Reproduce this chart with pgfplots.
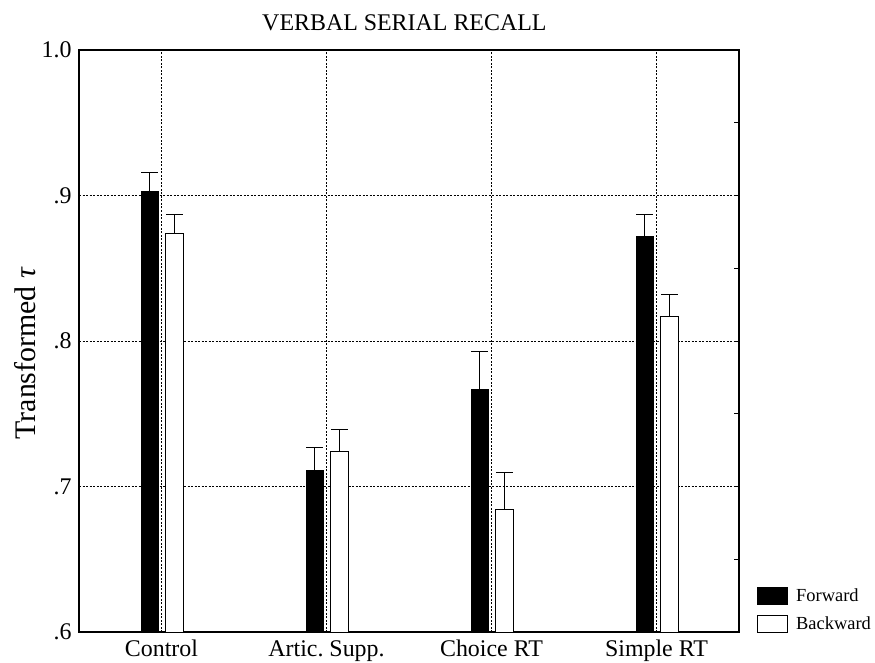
\documentclass[border=0pt]{standalone}
\usepackage{fontspec}
\setmainfont{Liberation Serif}
\usepackage{pgfplots}
\pgfplotsset{compat=1.18}
\begin{document}
\begin{tikzpicture}
\pgfplotsset{
  mybar/.style={ybar, bar width=0.106, bar shift=0, draw=black, line width=1bp,
    legend image code/.code={\draw[##1, line width=1bp] (0bp,-8.5bp) rectangle (30bp,8.5bp); \path (36bp,0bp);},
    error bars/y dir=plus, error bars/y explicit,
    error bars/error bar style={line width=1bp, black, solid},
    error bars/error mark options={rotate=90, mark size=8.5bp, line width=1bp, black}},
}
\begin{axis}[
  scale only axis, width=660bp, height=582bp,
  xmin=-0.5, xmax=3.5, ymin=0.6, ymax=1.0,
  xtick={0,1,2,3},
  xticklabels={Control, Artic.\ Supp., Choice RT, Simple RT},
  ytick={0.6,0.7,0.8,0.9,1.0},
  yticklabels={.6,.7,.8,.9,1.0},
  minor ytick={0.65,0.75,0.85,0.95},
  ytick pos=right, yticklabel pos=left,
  xtick style={draw=none},
  ytick style={black, line width=1bp},
  major tick length=5bp, minor tick length=5bp,
  xmajorgrids, ymajorgrids,
  grid style={black, line width=1bp, dash pattern=on 2bp off 1.5bp},
  axis line style={line width=1.2bp},
  title={VERBAL SERIAL RECALL},
  title style={at={(axis description cs:0.493,1.037)}, anchor=center, font=\fontsize{24}{28}\selectfont},
  ylabel={Transformed \textit{τ}},
  ylabel style={at={(axis description cs:-0.082,0.479)}, anchor=center, font=\fontsize{30}{34}\selectfont},
  xticklabel style={font=\fontsize{24}{28}\selectfont, anchor=base, yshift=-24bp},
  yticklabel style={font=\fontsize{24}{28}\selectfont, xshift=-4bp},
  legend style={at={(axis description cs:1,0)}, anchor=south west, xshift=18bp, yshift=-1.5bp,
    draw=none, fill=none, font=\fontsize{18.5}{21}\selectfont, row sep=10bp,
    inner sep=0pt, cells={anchor=west}},
]
\addplot[mybar, fill=black] coordinates {
  (-0.070,0.903) +- (0,0.013)
  (0.930,0.711) +- (0,0.016)
  (1.930,0.767) +- (0,0.026)
  (2.930,0.872) +- (0,0.015)
};
\addlegendentry{Forward}
\addplot[mybar, fill=white] coordinates {
  (0.079,0.874) +- (0,0.013)
  (1.079,0.724) +- (0,0.0155)
  (2.079,0.684) +- (0,0.0254)
  (3.079,0.817) +- (0,0.0147)
};
\addlegendentry{Backward}
\end{axis}
\pgfresetboundingbox
\path[use as bounding box] ([xshift=-79bp,yshift=-30bp]current axis.south west) rectangle ([xshift=136bp,yshift=50bp]current axis.north east);
\end{tikzpicture}
\end{document}
